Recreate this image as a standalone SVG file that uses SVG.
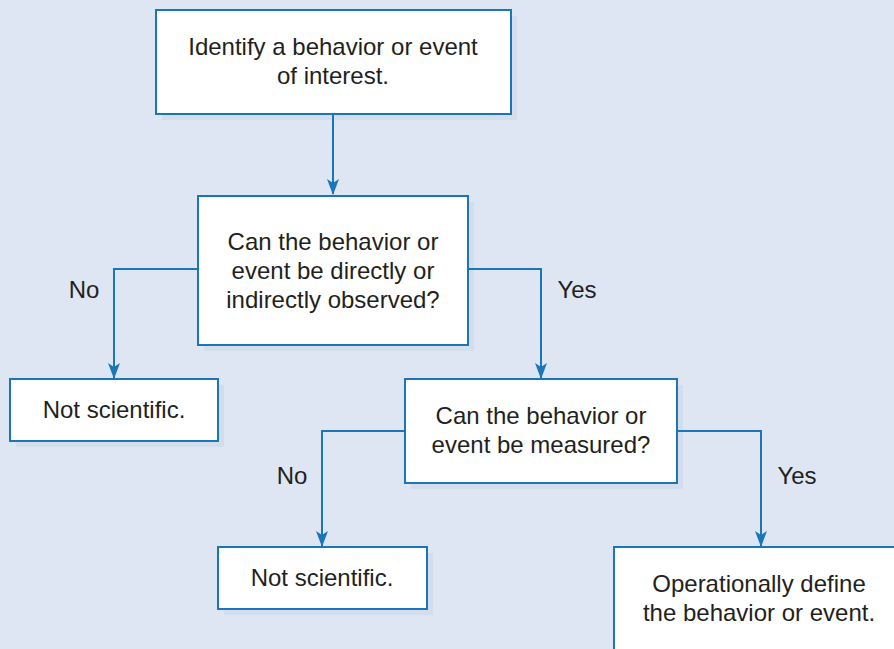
<svg xmlns="http://www.w3.org/2000/svg" width="894" height="649" viewBox="0 0 894 649">
<defs>
<style>
.box{fill:#ffffff;stroke:#1a75bb;stroke-width:2}
.shadow{fill:#d4ddec}
.t{font-family:"Liberation Sans",Arial,sans-serif;font-size:24px;fill:#231f20;text-anchor:middle}
.c{fill:none;stroke:#1a75bb;stroke-width:2;marker-end:url(#ah)}
</style>
<marker id="ah" viewBox="0 0 16 12" refX="15" refY="6" markerWidth="16" markerHeight="12" markerUnits="userSpaceOnUse" orient="auto">
<path d="M0,0 L16,6 L0,12 L4,6 z" fill="#1a75bb"/>
</marker>
</defs>
<rect width="894" height="649" fill="#dfe6f3"/>
<g id="n1">
<rect class="shadow" x="162" y="16" width="355" height="104"/>
<rect class="box" x="156" y="10" width="355" height="104"/>
<text class="t" x="333" y="55">Identify a behavior or event</text>
<text class="t" x="333" y="84">of interest.</text>
</g>
<g id="n2">
<rect class="shadow" x="204" y="202" width="270" height="149"/>
<rect class="box" x="198" y="196" width="270" height="149"/>
<text class="t" x="333" y="250">Can the behavior or</text>
<text class="t" x="333" y="279">event be directly or</text>
<text class="t" x="333" y="308">indirectly observed?</text>
</g>
<g id="n3">
<rect class="shadow" x="16" y="385" width="208" height="62"/>
<rect class="box" x="10" y="379" width="208" height="62"/>
<text class="t" x="114" y="418">Not scientific.</text>
</g>
<g id="n4">
<rect class="shadow" x="411" y="385" width="272" height="104"/>
<rect class="box" x="405" y="379" width="272" height="104"/>
<text class="t" x="541" y="424">Can the behavior or</text>
<text class="t" x="541" y="453">event be measured?</text>
</g>
<g id="n5">
<rect class="shadow" x="224" y="553" width="209" height="62"/>
<rect class="box" x="218" y="547" width="209" height="62"/>
<text class="t" x="322" y="586">Not scientific.</text>
</g>
<g id="n6">
<rect class="shadow" x="620" y="553" width="290" height="110"/>
<rect class="box" x="614" y="547" width="290" height="110"/>
<text class="t" x="759" y="592">Operationally define</text>
<text class="t" x="759" y="621">the behavior or event.</text>
</g>
<g id="connectors">
<path class="c" d="M333,115 V194"/>
<path class="c" d="M199,269 H114 V378"/>
<path class="c" d="M467,269 H541 V378"/>
<path class="c" d="M406,431 H322 V546"/>
<path class="c" d="M676,431 H761 V546"/>
<text class="t" x="84" y="298">No</text>
<text class="t" x="577" y="298">Yes</text>
<text class="t" x="292" y="484">No</text>
<text class="t" x="797" y="484">Yes</text>
</g>
</svg>
